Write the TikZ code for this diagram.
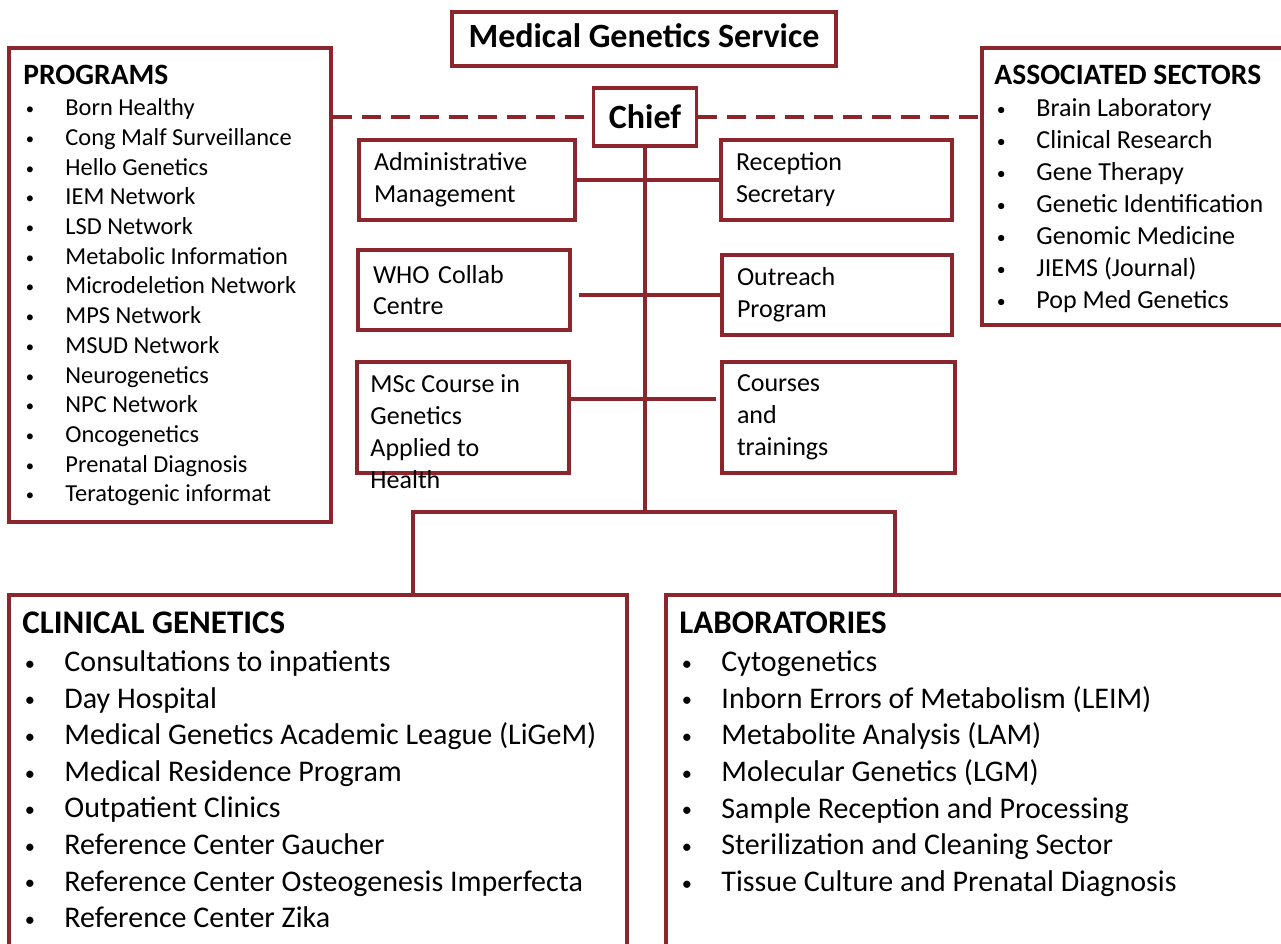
\documentclass[tikz,border=0pt]{standalone}
\usepackage{fontspec}
\usepackage{graphicx}
\setmainfont{Carlito}
\definecolor{boxred}{RGB}{140,38,44}
\newcommand{\bul}{\makebox[42pt][l]{\hspace{2.5pt}\raisebox{0.04em}{\scalebox{0.68}{\textbullet}}}}
\newcommand{\unitfont}{\fontsize{26}{31.8}\selectfont}
\newcommand{\headsmall}{\bfseries\fontsize{29.5}{30}\selectfont}
\newcommand{\headbig}{\bfseries\fontsize{33}{36}\selectfont}

\begin{document}
\begin{tikzpicture}[x=1pt, y=-1pt,
    orgbox/.style={draw=boxred, line width=3.5pt, rectangle, inner sep=0pt},
    unitbox/.style={orgbox, font=\unitfont, align=left, inner xsep=15pt, inner ysep=0pt},
    listtxt/.style={anchor=north west, inner sep=0pt, align=left},
    orglink/.style={draw=boxred, line width=3.5pt},
    dashlink/.style={orglink, dash pattern=on 19pt off 10pt}]
  \useasboundingbox (0,0) rectangle (1281,943);
  \clip (0,0) rectangle (1281,943);
  \node[orgbox, minimum width=384pt, minimum height=54pt, text height=23pt, text depth=6pt,
        font=\bfseries\fontsize{34}{40}\selectfont] (service) at (644,39) {Medical Genetics Service};
  \node[orgbox, minimum width=103pt, minimum height=58pt, text height=23pt, text depth=0.5pt,
        font=\bfseries\fontsize{34}{40}\selectfont] (chief) at (645,117) {Chief};
  \node[unitbox, text width=186pt, minimum height=80pt] (admin) at (467,180) {Administrative\\Management};
  \node[unitbox, text width=201pt, minimum height=80pt] (recep) at (836.5,180) {Reception\\Secretary};
  \node[unitbox, text width=182pt, minimum height=80pt] (who) at (464,290) {WHO Collab\\Centre};
  \node[unitbox, text width=200pt, minimum height=80pt] (outr) at (837,295) {Outreach\\Program};
  \node[orgbox, minimum width=212pt, minimum height=111pt] (msc) at (463,417.5) {};
  \node[listtxt, font=\unitfont] (msctxt) at ([xshift=15pt, yshift=-14.5pt]msc.north west)
       {MSc Course in\\Genetics\\Applied to\\Health};
  \node[unitbox, text width=203pt, minimum height=111pt] (crs) at (838.5,417.5) {Courses\\and\\trainings};
  \node[orgbox, minimum width=322pt, minimum height=474pt] (prog) at (170,285) {};
  \node[orgbox, minimum width=330pt, minimum height=277pt] (assoc) at (1147,186.5) {};
  \node[orgbox, minimum width=618pt, minimum height=385pt] (clin) at (318,787.5) {};
  \node[orgbox, minimum width=644pt, minimum height=385pt] (labs) at (988,787.5) {};
  \node[listtxt, font=\fontsize{24.4}{29.7}\selectfont] (progtxt) at ([xshift=16pt, yshift=-18.7pt]prog.north west)
       {{\headsmall PROGRAMS}\\[1.5pt]
        \bul Born Healthy\\ \bul Cong Malf Surveillance\\ \bul Hello Genetics\\
        \bul IEM Network\\ \bul LSD Network\\ \bul Metabolic Information\\
        \bul Microdeletion Network\\ \bul MPS Network\\ \bul MSUD Network\\
        \bul Neurogenetics\\ \bul NPC Network\\ \bul Oncogenetics\\
        \bul Prenatal Diagnosis\\ \bul Teratogenic informat};
  \node[listtxt, font=\fontsize{26}{32}\selectfont] (assoctxt) at ([xshift=14pt, yshift=-19pt]assoc.north west)
       {{\headsmall ASSOCIATED SECTORS}\\
        \bul Brain Laboratory\\ \bul Clinical Research\\ \bul Gene Therapy\\
        \bul Genetic Identification\\ \bul Genomic Medicine\\ \bul JIEMS (Journal)\\
        \bul Pop Med Genetics};
  \node[listtxt, font=\fontsize{30}{36.6}\selectfont] (clintxt) at ([xshift=15pt, yshift=-18.3pt]clin.north west)
       {{\headbig CLINICAL GENETICS}\\[1.5pt]
        \bul Consultations to inpatients\\ \bul Day Hospital\\
        \bul Medical Genetics Academic League (LiGeM)\\ \bul Medical Residence Program\\
        \bul Outpatient Clinics\\ \bul Reference Center Gaucher\\
        \bul Reference Center Osteogenesis Imperfecta\\ \bul Reference Center Zika};
  \node[listtxt, font=\fontsize{30}{36.7}\selectfont] (labtxt) at ([xshift=15pt, yshift=-18pt]labs.north west)
       {{\headbig LABORATORIES}\\[1.5pt]
        \bul Cytogenetics\\ \bul Inborn Errors of Metabolism (LEIM)\\
        \bul Metabolite Analysis (LAM)\\ \bul Molecular Genetics (LGM)\\
        \bul Sample Reception and Processing\\ \bul Sterilization and Cleaning Sector\\
        \bul Tissue Culture and Prenatal Diagnosis};
  \coordinate (trunk) at (645,512);
  \coordinate (busL) at (413,512);
  \coordinate (busR) at (895,512);
  \coordinate (mscjoin) at (571,399);
  \coordinate (crsjoin) at (716,399);
  \draw[dashlink] (prog.east |- chief.west) -- (chief.west);
  \draw[dashlink] (chief.east) -- (assoc.west |- chief.east);
  \draw[orglink] (chief.south) -- (trunk);
  \draw[orglink] (clin.north -| busL) -- (busL) -- (busR) -- (labs.north -| busR);
  \draw[orglink] (admin.east) -- (recep.west);
  \draw[orglink] ([xshift=7pt]who.east |- outr.west) -- (outr.west);
  \draw[orglink] (mscjoin) -- (crsjoin);
\end{tikzpicture}
\end{document}
